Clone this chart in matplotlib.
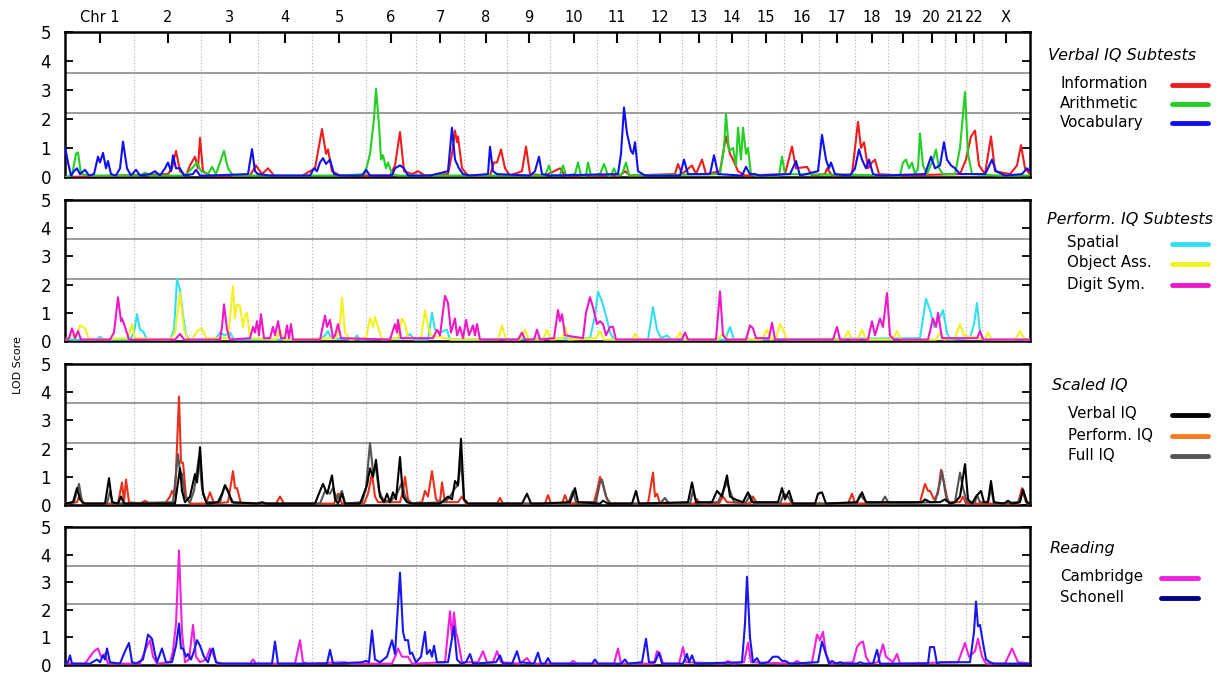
import numpy as np
import matplotlib
matplotlib.use("Agg")
import matplotlib.pyplot as plt
from matplotlib.lines import Line2D

plt.rcParams['font.family'] = ['DejaVu Sans']

# ---------------- data ----------------
# map positions (arbitrary genome units); chromosome boundaries
chrom_bounds = [65, 134, 201, 258, 312, 366, 416, 464, 507, 550, 597, 637, 682,
                716, 748, 784, 819, 855, 888, 918, 945, 966, 982, 1030]
chrom_labels = ["Chr 1", "2", "3", "4", "5", "6", "7", "8", "9", "10", "11", "12",
                "13", "14", "15", "16", "17", "18", "19", "20", "21", "22", "X"]
thresholds = [2.2, 3.6]

information = [(65,0),(120,0.05),(168,0.1),(172,0.3),(176,0.9),(180,0.2),(186,0.05),(190,0.4),(195,0.7),(198,0.3),(200,1.35),(203,0.2),(210,0.05),(250,0.05),(256,0.4),(262,0.1),(268,0.3),(274,0.05),(300,0.0),(315,0.3),(322,1.65),(326,0.8),(328,0.95),(332,0.2),(340,0.05),(390,0.05),(395,0.4),(400,1.55),(404,0.2),(412,0.1),(418,0.2),(425,0.05),(448,0.1),(452,0.8),(455,1.6),(457,1.2),(458,1.4),(462,0.3),(468,0.05),(490,0.05),(494,0.5),(497,0.5),(501,0.95),(505,0.3),(510,0.05),(522,0.2),(526,1.05),(530,0.1),(545,0.05),(560,0.3),(565,0.05),(620,0.05),(625,0.2),(630,0.05),(675,0.1),(678,0.45),(682,0.1),(692,0.4),(696,0.1),(702,0.6),(706,0.1),(720,0.2),(726,1.4),(730,0.8),(733,0.6),(738,0.2),(745,0.05),(785,0.1),(792,1.05),(796,0.3),(807,0.35),(812,0.05),(825,0.1),(827,0.3),(832,0.05),(852,0.1),(858,1.9),(861,1.0),(864,1.2),(868,0.3),(872,0.5),(875,0.6),(879,0.1),(900,0.05),(960,0.1),(966,0.6),(971,1.4),(975,1.6),(979,0.4),(985,0.1),(991,1.4),(995,0.2),(1010,0.1),(1017,0.4),(1021,1.1),(1025,0.3),(1030,0.1)]

arithmetic = [(65,0),(72,0.05),(76,0.8),(78,0.85),(81,0.1),(90,0.05),(140,0.05),(145,0.15),(150,0.05),(185,0.05),(192,0.3),(197,0.5),(201,0.2),(208,0.1),(212,0.35),(216,0.1),(220,0.5),(224,0.9),(228,0.3),(233,0.05),(340,0.05),(365,0.1),(370,0.8),(374,2.0),(376,3.05),(379,1.8),(381,0.6),(383,0.75),(386,0.3),(388,0.5),(392,0.1),(398,0.05),(545,0.05),(549,0.4),(552,0.05),(560,0.05),(563,0.4),(566,0.05),(575,0.1),(578,0.5),(581,0.05),(586,0.05),(588,0.5),(591,0.05),(600,0.1),(604,0.45),(608,0.05),(611,0.05),(614,0.3),(617,0.05),(622,0.1),(626,0.5),(629,0.05),(720,0.1),(724,1.0),(726,2.17),(729,0.9),(733,1.0),(736,0.4),(738,1.7),(741,0.6),(743,1.7),(746,0.8),(748,1.0),(751,0.1),(756,0.05),(779,0.05),(782,0.7),(785,0.1),(900,0.05),(903,0.5),(906,0.6),(909,0.3),(912,0.5),(915,0.1),(918,0.3),(920,1.5),(923,0.4),(927,0.1),(933,0.6),(936,0.95),(939,0.3),(943,0.1),(955,0.1),(960,1.0),(965,2.93),(968,0.8),(972,0.1),(1000,0.05),(1030,0.05)]

vocabulary = [(65,1.05),(68,0.5),(71,0.05),(74,0.2),(77,0.3),(80,0.1),(85,0.25),(89,0.05),(94,0.1),(98,0.7),(100,0.5),(103,0.83),(106,0.3),(108,0.55),(111,0.1),(116,0.05),(120,0.3),(123,1.22),(127,0.3),(131,0.05),(136,0.25),(140,0.05),(150,0.1),(155,0.2),(160,0.05),(165,0.3),(168,0.5),(171,0.2),(173,0.75),(176,0.3),(180,0.3),(184,0.05),(193,0.1),(196,0.25),(200,0.05),(210,0.05),(248,0.1),(252,0.96),(255,0.2),(258,0.1),(270,0.05),(310,0.05),(314,0.3),(317,0.2),(320,0.5),(323,0.65),(326,0.45),(330,0.6),(334,0.1),(340,0.05),(362,0.05),(366,0.25),(370,0.05),(392,0.05),(395,0.3),(400,0.4),(404,0.3),(408,0.05),(430,0.05),(448,0.2),(452,1.7),(455,0.6),(459,0.3),(463,0.1),(470,0.05),(488,0.1),(490,1.04),(493,0.2),(497,0.1),(530,0.05),(535,0.2),(539,0.7),(542,0.1),(550,0.05),(618,0.1),(621,0.8),(624,2.4),(627,1.5),(631,0.9),(633,0.8),(635,1.2),(638,0.2),(645,0.05),(680,0.05),(684,0.6),(688,0.1),(710,0.1),(714,0.75),(718,0.1),(742,0.05),(746,0.35),(750,0.1),(755,0.1),(760,0.05),(790,0.1),(796,0.55),(800,0.05),(818,0.2),(822,1.45),(826,0.6),(829,0.3),(831,0.5),(835,0.1),(850,0.05),(855,0.3),(859,0.95),(862,0.6),(866,0.3),(869,0.6),(873,0.1),(880,0.05),(925,0.1),(928,0.4),(931,0.7),(935,0.3),(940,0.4),(944,1.2),(947,0.6),(951,0.4),(955,0.3),(960,0.1),(985,0.1),(988,0.3),(992,0.6),(996,0.2),(1005,0.05),(1022,0.1),(1027,0.3),(1030,0.2)]

spatial = [(65,0.05),(96,0.05),(100,0.15),(104,0.05),(130,0.05),(134,0.3),(137,0.95),(140,0.4),(143,0.35),(147,0.05),(170,0.05),(174,0.4),(177,2.2),(180,1.8),(183,0.9),(186,0.2),(190,0.05),(215,0.05),(220,0.3),(225,0.2),(230,0.3),(234,0.05),(320,0.05),(325,0.2),(328,0.35),(331,0.1),(354,0.05),(357,0.2),(360,0.05),(405,0.1),(410,0.25),(414,0.05),(428,0.05),(432,1.0),(435,0.4),(440,0.3),(447,0.4),(450,0.05),(590,0.1),(595,0.9),(598,1.75),(602,1.4),(606,0.9),(610,0.3),(614,0.05),(648,0.05),(653,1.2),(657,0.4),(661,0.1),(667,0.2),(671,0.05),(725,0.05),(730,0.5),(734,0.05),(920,0.1),(926,1.5),(930,1.1),(934,0.5),(938,0.7),(943,1.1),(947,0.3),(950,0.05),(970,0.1),(974,0.6),(977,1.35),(980,0.3),(984,0.05),(1030,0.05)]

object_ass = [(65,0.05),(72,0.2),(76,0.1),(80,0.55),(85,0.45),(89,0.05),(128,0.1),(132,0.6),(135,0.1),(170,0.05),(175,0.3),(180,1.7),(184,0.4),(188,0.05),(193,0.1),(197,0.35),(202,0.45),(206,0.1),(228,0.1),(233,1.95),(235,0.8),(237,1.3),(240,1.25),(243,0.5),(245,0.9),(247,1.0),(250,0.1),(276,0.05),(280,0.4),(284,0.05),(336,0.1),(340,0.6),(342,1.55),(345,0.3),(350,0.05),(366,0.1),(370,0.8),(373,0.5),(375,0.85),(378,0.5),(382,0.05),(398,0.1),(402,0.8),(405,0.6),(408,0.1),(421,0.1),(425,1.1),(428,0.5),(431,0.2),(452,0.05),(498,0.05),(502,0.55),(506,0.05),(520,0.05),(525,0.4),(529,0.05),(543,0.05),(547,0.4),(551,0.05),(563,0.1),(565,0.5),(569,0.05),(596,0.1),(600,0.35),(604,0.05),(632,0.05),(635,0.25),(639,0.05),(676,0.05),(680,0.3),(684,0.05),(718,0.05),(723,0.3),(727,0.05),(762,0.05),(767,0.4),(771,0.05),(776,0.1),(780,0.6),(783,0.4),(787,0.05),(844,0.05),(848,0.35),(852,0.05),(858,0.05),(862,0.4),(866,0.05),(893,0.05),(897,0.35),(901,0.05),(936,0.05),(940,0.3),(944,0.05),(955,0.1),(960,0.6),(964,0.2),(985,0.05),(988,0.3),(992,0.05),(1015,0.05),(1020,0.35),(1025,0.05),(1030,0.05)]

digit_sym = [(65,0.05),(69,0.1),(72,0.45),(75,0.1),(78,0.35),(81,0.05),(110,0.05),(114,0.3),(118,1.55),(121,0.7),(122,0.8),(125,0.5),(129,0.05),(175,0.05),(180,0.25),(184,0.05),(220,0.05),(222,0.5),(224,1.3),(227,0.4),(230,0.05),(250,0.1),(253,0.5),(255,0.3),(257,0.7),(259,0.2),(261,0.95),(264,0.1),(270,0.1),(273,0.5),(275,0.2),(278,0.7),(281,0.1),(285,0.1),(287,0.55),(289,0.1),(291,0.6),(293,0.05),(320,0.05),(325,0.9),(327,0.5),(330,0.75),(333,0.1),(335,0.2),(338,0.6),(341,0.1),(390,0.05),(395,0.6),(397,0.3),(398,0.75),(401,0.1),(433,0.1),(437,0.4),(440,0.2),(445,1.6),(448,1.35),(451,0.3),(455,0.8),(457,0.2),(460,0.5),(463,0.1),(466,0.75),(469,0.2),(473,0.55),(475,0.2),(477,0.6),(480,0.05),(518,0.05),(522,0.3),(525,0.05),(534,0.05),(537,0.4),(540,0.05),(554,0.1),(558,1.1),(560,0.7),(562,0.95),(565,0.2),(583,0.1),(586,1.0),(590,1.55),(593,1.2),(597,0.6),(600,0.7),(603,0.6),(606,0.2),(610,0.5),(613,0.5),(616,0.05),(682,0.05),(685,0.3),(688,0.05),(716,0.05),(720,1.76),(723,0.2),(727,0.05),(746,0.05),(750,0.55),(753,0.45),(756,0.1),(769,0.1),(772,0.65),(775,0.05),(833,0.05),(837,0.5),(840,0.05),(868,0.05),(872,0.7),(875,0.2),(880,0.8),(883,0.5),(887,1.7),(890,0.2),(894,0.05),(928,0.05),(933,0.8),(936,0.5),(938,1.0),(942,0.1),(977,0.1),(980,0.35),(983,0.05),(1030,0.05)]

verbal_iq = [(65,0.05),(73,0.1),(77,0.6),(80,0.2),(84,0.05),(105,0.05),(109,0.95),(112,0.1),(118,0.05),(121,0.3),(124,0.05),(175,0.05),(180,1.3),(182,0.5),(185,0.1),(190,0.3),(195,1.1),(197,0.8),(200,2.05),(203,0.4),(207,0.05),(218,0.1),(222,0.4),(225,0.7),(228,0.5),(232,0.1),(258,0.05),(262,0.1),(266,0.05),(315,0.05),(320,0.5),(323,0.75),(327,0.4),(328,0.5),(332,1.05),(335,0.2),(338,0.05),(342,0.4),(345,0.05),(360,0.05),(367,0.7),(370,1.3),(373,1.0),(376,1.6),(379,0.6),(380,0.3),(384,0.1),(387,0.4),(390,0.1),(393,0.45),(396,0.2),(400,1.7),(403,0.3),(407,0.1),(412,0.05),(440,0.05),(445,0.2),(448,0.3),(452,0.2),(455,0.85),(458,0.7),(461,2.35),(464,0.2),(468,0.05),(522,0.05),(527,0.4),(531,0.05),(540,0.05),(570,0.1),(575,0.6),(578,0.1),(600,0.05),(603,0.15),(608,0.05),(632,0.05),(636,0.5),(639,0.05),(688,0.1),(692,0.8),(696,0.1),(712,0.1),(717,0.5),(722,0.3),(727,1.05),(730,0.3),(735,0.2),(743,0.1),(748,0.45),(752,0.1),(778,0.1),(782,0.6),(785,0.2),(789,0.5),(793,0.05),(815,0.05),(818,0.4),(822,0.45),(826,0.05),(857,0.1),(862,0.45),(866,0.1),(922,0.1),(925,0.2),(930,0.1),(940,0.1),(945,0.2),(950,0.05),(955,0.1),(960,0.3),(965,1.45),(968,0.2),(972,0.05),(976,0.3),(981,0.5),(984,0.1),(988,0.1),(991,0.85),(994,0.1),(1004,0.05),(1008,0.15),(1012,0.05),(1020,0.1),(1023,0.55),(1027,0.1),(1030,0.05)]

perform_iq = [(65,0.1),(68,0.05),(77,0.1),(80,0.4),(83,0.05),(118,0.05),(122,0.8),(124,0.1),(126,0.9),(129,0.1),(140,0.05),(145,0.15),(150,0.05),(165,0.05),(170,0.3),(172,0.5),(175,0.3),(179,3.85),(181,1.5),(183,1.5),(186,0.3),(190,0.05),(206,0.05),(210,0.45),(214,0.05),(228,0.1),(233,1.2),(235,0.6),(237,0.6),(241,0.05),(276,0.05),(280,0.3),(284,0.05),(334,0.05),(338,0.4),(342,0.05),(364,0.05),(368,0.4),(372,1.1),(375,0.3),(378,0.1),(400,0.1),(403,0.5),(405,1.0),(408,0.2),(412,0.05),(422,0.1),(425,0.5),(428,0.3),(432,1.2),(436,0.2),(440,0.1),(442,0.8),(445,0.1),(458,0.1),(462,0.3),(466,0.05),(497,0.05),(500,0.25),(503,0.05),(545,0.05),(548,0.35),(551,0.05),(562,0.05),(565,0.35),(568,0.05),(594,0.1),(597,0.5),(600,1.0),(603,0.7),(607,0.2),(611,0.05),(648,0.05),(653,1.15),(655,0.3),(657,0.4),(660,0.05),(695,0.05),(697,0.2),(700,0.05),(719,0.05),(723,0.3),(727,0.1),(750,0.05),(753,0.3),(757,0.05),(848,0.05),(852,0.4),(855,0.05),(920,0.1),(925,0.75),(928,0.5),(930,0.5),(934,0.2),(938,0.4),(941,1.25),(944,0.8),(948,0.1),(960,0.1),(963,0.3),(966,0.05),(1018,0.05),(1022,0.6),(1026,0.1),(1030,0.05)]

full_iq = [(65,0.05),(74,0.1),(79,0.75),(82,0.1),(86,0.05),(107,0.05),(110,0.5),(113,0.05),(173,0.1),(178,1.8),(180,1.2),(182,1.1),(185,0.3),(190,0.1),(194,0.5),(199,1.7),(202,0.6),(206,0.1),(220,0.1),(225,0.7),(230,0.3),(234,0.05),(320,0.05),(325,0.5),(330,0.4),(333,0.6),(337,0.2),(342,0.5),(345,0.05),(362,0.1),(366,0.6),(370,2.2),(373,1.2),(376,1.3),(379,0.5),(383,0.2),(390,0.1),(397,0.4),(402,0.8),(405,0.3),(410,0.05),(445,0.1),(450,0.3),(455,0.6),(458,0.7),(461,1.6),(464,0.2),(468,0.05),(568,0.05),(573,0.5),(576,0.1),(596,0.1),(600,0.8),(602,0.9),(606,0.3),(610,0.05),(660,0.05),(665,0.25),(669,0.05),(690,0.05),(693,0.5),(697,0.05),(718,0.1),(722,0.4),(727,0.8),(730,0.5),(734,0.1),(746,0.1),(750,0.35),(754,0.05),(780,0.05),(784,0.4),(788,0.3),(792,0.05),(856,0.05),(860,0.35),(864,0.2),(868,0.05),(881,0.05),(885,0.3),(889,0.05),(935,0.1),(940,0.8),(942,1.2),(946,0.3),(950,0.05),(955,0.1),(960,1.15),(963,0.6),(967,0.1),(975,0.1),(977,0.35),(980,0.1),(988,0.1),(991,0.6),(994,0.05),(1018,0.1),(1023,0.45),(1027,0.05),(1030,0.05)]

cambridge = [(65,0.05),(85,0.05),(90,0.3),(94,0.5),(98,0.6),(101,0.3),(105,0.4),(108,0.05),(140,0.05),(146,0.6),(150,0.9),(153,0.3),(157,0.05),(170,0.1),(173,0.5),(176,1.5),(179,4.15),(182,1.2),(185,0.1),(189,0.2),(193,1.45),(196,0.3),(200,0.1),(206,0.2),(210,0.6),(213,0.4),(217,0.05),(250,0.05),(253,0.2),(256,0.05),(295,0.05),(300,0.9),(303,0.1),(308,0.05),(345,0.1),(350,0.05),(392,0.05),(395,0.3),(398,0.6),(402,0.3),(408,0.3),(412,0.05),(445,0.1),(450,1.95),(452,1.0),(454,1.9),(456,1.2),(458,0.9),(462,0.1),(478,0.1),(483,0.5),(487,0.1),(493,0.1),(497,0.5),(501,0.1),(520,0.05),(527,0.25),(531,0.05),(570,0.05),(573,0.15),(577,0.05),(614,0.05),(618,0.6),(621,0.05),(654,0.05),(657,0.5),(660,0.4),(663,0.05),(679,0.05),(683,0.65),(686,0.1),(724,0.05),(728,0.15),(732,0.05),(744,0.1),(748,0.8),(751,0.1),(793,0.05),(797,0.15),(801,0.05),(812,0.1),(817,1.1),(820,0.9),(823,1.2),(826,0.4),(830,0.05),(853,0.1),(857,0.65),(860,0.8),(863,0.85),(866,0.3),(870,0.05),(878,0.1),(883,0.75),(886,0.3),(893,0.1),(897,0.4),(900,0.05),(958,0.1),(965,0.8),(969,0.3),(975,0.5),(978,0.95),(982,0.3),(986,0.05),(1005,0.05),(1012,0.6),(1018,0.1),(1030,0.05)]

schonell = [(65,0.05),(68,0.1),(70,0.35),(72,0.05),(90,0.05),(97,0.2),(100,0.1),(103,0.35),(105,0.2),(107,0.6),(110,0.1),(120,0.05),(125,0.5),(129,0.8),(132,0.1),(136,0.05),(143,0.2),(148,1.1),(152,0.95),(155,0.4),(157,0.1),(162,0.6),(166,0.1),(172,0.1),(176,0.7),(179,1.5),(181,0.6),(183,0.6),(186,0.3),(188,0.4),(191,0.2),(194,0.5),(197,0.9),(200,0.7),(204,0.3),(208,0.1),(211,0.5),(213,0.6),(216,0.1),(222,0.05),(272,0.05),(275,0.85),(278,0.05),(327,0.05),(330,0.55),(333,0.05),(362,0.1),(366,0.15),(369,0.1),(372,1.25),(375,0.2),(380,0.1),(387,0.3),(392,0.9),(395,0.4),(400,3.35),(403,1.2),(405,0.9),(408,0.9),(410,0.4),(412,0.45),(416,0.1),(421,0.3),(425,1.2),(427,0.4),(430,0.55),(432,0.3),(434,0.7),(437,0.1),(448,0.1),(454,1.4),(457,0.2),(461,0.05),(466,0.1),(470,0.4),(473,0.05),(496,0.1),(500,0.35),(503,0.05),(512,0.05),(517,0.5),(520,0.1),(534,0.05),(538,0.45),(541,0.05),(545,0.05),(548,0.25),(551,0.05),(592,0.05),(595,0.2),(598,0.05),(621,0.05),(625,0.2),(628,0.05),(642,0.1),(646,0.95),(649,0.1),(655,0.1),(659,0.45),(662,0.05),(683,0.05),(687,0.4),(689,0.1),(692,0.35),(695,0.05),(742,0.1),(745,1.5),(747,3.2),(750,1.0),(753,0.1),(757,0.25),(760,0.05),(768,0.1),(773,0.3),(778,0.3),(782,0.15),(785,0.15),(790,0.05),(818,0.1),(822,0.85),(826,0.4),(829,0.05),(832,0.15),(836,0.05),(840,0.1),(845,0.05),(857,0.05),(860,0.1),(864,0.05),(873,0.05),(877,0.55),(880,0.05),(928,0.05),(930,0.65),(934,0.65),(937,0.05),(940,0.1),(970,0.1),(974,1.2),(976,2.3),(978,1.4),(980,1.45),(983,0.8),(986,0.2),(990,0.1),(994,0.05),(1020,0.05),(1030,0.05)]

panels = [
    ("Verbal IQ Subtests", [("Information", information, '#ee1c1c', '#ee1c1c'),
                            ("Arithmetic", arithmetic, '#22d022', '#22d022'),
                            ("Vocabulary", vocabulary, '#1010ee', '#1010ee')]),
    ("Perform. IQ Subtests", [("Spatial", spatial, '#30e0f0', '#30e0f0'),
                              ("Object Ass.", object_ass, '#f2f020', '#f2f020'),
                              ("Digit Sym.", digit_sym, '#ee18c8', '#ee18c8')]),
    ("Scaled IQ", [("Perform. IQ", perform_iq, '#e8301a', '#ff7a1e'),
                   ("Full IQ", full_iq, '#555555', '#555555'),
                   ("Verbal IQ", verbal_iq, '#000000', '#000000')]),
    ("Reading", [("Cambridge", cambridge, '#f020dc', '#f020dc'),
                 ("Schonell", schonell, '#1818e8', '#000080')]),
]
legend_order = [["Information", "Arithmetic", "Vocabulary"],
                ["Spatial", "Object Ass.", "Digit Sym."],
                ["Verbal IQ", "Perform. IQ", "Full IQ"],
                ["Cambridge", "Schonell"]]

# ---------------- figure ----------------
W, H = 1231, 674
fig = plt.figure(figsize=(W / 100, H / 100), dpi=100)

panel_px = [(32, 177), (200, 341), (364, 505), (527, 665)]
left_px, right_px = 65, 1030

# legend layout (pixels): title y, entry ys, text x, line x range, title x
leg_layout = [
    (56, [84, 103, 122], 1060, (1172, 1208), 1048),
    (220, [243, 263, 284], 1067, (1172, 1208), 1047),
    (386, [414, 435, 455], 1068, (1172, 1208), 1052),
    (548, [577, 597], 1060, (1161, 1198), 1050),
]

def fx(px):
    return px / W

def fy(py):
    return 1 - py / H

centers = [(chrom_bounds[i] + chrom_bounds[i + 1]) / 2 for i in range(len(chrom_labels))]

for i, ((title, series), (top, bot)) in enumerate(zip(panels, panel_px)):
    ax = fig.add_axes([fx(left_px), fy(bot), (right_px - left_px) / W, (bot - top) / H])
    ax.set_xlim(chrom_bounds[0], chrom_bounds[-1])
    ax.set_ylim(0, 5)
    for b in chrom_bounds[1:-1]:
        ax.axvline(b, color='#aaaaaa', lw=0.8, ls=(0, (1, 2)), zorder=1)
    for t in thresholds:
        ax.axhline(t, color='#8a8a8a', lw=1.2, zorder=1)
    colors_for_legend = {}
    for name, pts, c, lc in series:
        xs = [p[0] for p in pts]
        ys = [p[1] for p in pts]
        ax.plot(xs, ys, color=c, lw=1.5, zorder=3)
        colors_for_legend[name] = lc
    ax.set_yticks([0, 1, 2, 3, 4, 5])
    ax.tick_params(axis='y', direction='in', length=6, width=1.3, left=True, right=True,
                   labelsize=12, pad=10)
    for s in ax.spines.values():
        s.set_linewidth(1.8)
    if i == 0:
        ax.xaxis.tick_top()
        ax.set_xticks(centers)
        ax.set_xticklabels(chrom_labels)
        ax.tick_params(axis='x', direction='in', length=8, width=1.5, top=True, bottom=False,
                       labeltop=True, labelbottom=False, labelsize=10.5, pad=5)
    else:
        ax.set_xticks([])

    # legend
    ty, eys, tx, (lx0, lx1), titx = leg_layout[i]
    fig.text(fx(titx), fy(ty), title, style='italic', fontsize=11.5, va='center', ha='left')
    for name, ey in zip(legend_order[i], eys):
        fig.text(fx(tx), fy(ey), name, fontsize=10.8, va='center', ha='left')
        fig.add_artist(Line2D([fx(lx0), fx(lx1)], [fy(ey + 1), fy(ey + 1)],
                              color=colors_for_legend[name], lw=3.5,
                              solid_capstyle='round', transform=fig.transFigure))

fig.text(fx(18), fy(365), "LOD Score", rotation=90, fontsize=8, va='center', ha='center')

fig.savefig("out.png", dpi=100, facecolor='white')
